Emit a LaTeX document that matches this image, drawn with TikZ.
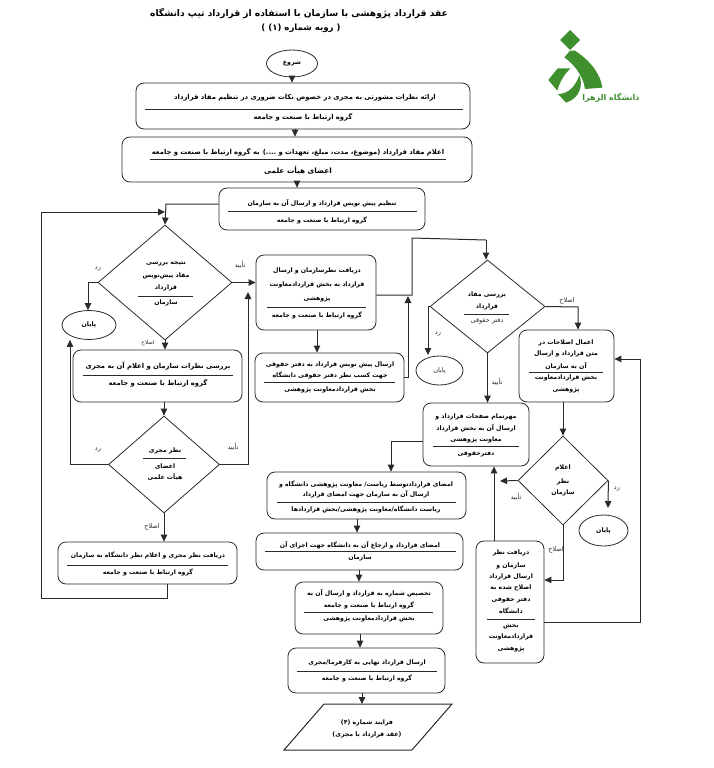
\documentclass[tikz,border=0pt]{standalone}
\usepackage{fontspec}
\usetikzlibrary{arrows.meta,shapes.geometric,fit}
\TeXXeTstate=1
\newfontfamily\faB[Script=Arabic]{DejaVu Sans Bold}
\newfontfamily\faR[Script=Arabic]{DejaVu Sans}
\newcommand{\fa}[1]{\beginR #1\endR}
\definecolor{ln}{HTML}{2A2A2A}
\definecolor{logog}{HTML}{3F8F2F}
\tikzset{
  flowbox/.style={draw=ln,line width=0.8pt,rounded corners=8pt,inner sep=0pt},
  dia/.style={draw=ln,line width=0.8pt,diamond,inner sep=0pt},
  term/.style={draw=ln,line width=0.8pt,ellipse,inner sep=0pt},
  sep/.style={draw=ln,line width=0.8pt},
  conn/.style={draw=ln,line width=1pt},
  arr/.style={conn,-{Triangle[length=7pt,width=6.5pt]}},
  lb/.style={inner sep=0pt,text=black,font=\faB\fontsize{6.8}{8}\selectfont},
  lbs/.style={lb,font=\faB\fontsize{6.2}{8}\selectfont},
  tag/.style={inner sep=0pt,text=ln,font=\faR\fontsize{6.5}{8}\selectfont}
}
\begin{document}
\begin{tikzpicture}[x=1pt,y=-1pt]
\useasboundingbox (0,0) rectangle (714,768);
% title
\node[inner sep=0pt,font=\faB\fontsize{9.1}{11}\selectfont] (title1) at (299,13) {\fa{عقد قرارداد پژوهشی با سازمان با استفاده از قرارداد تیپ دانشگاه}};
\node[inner sep=0pt,font=\faB\fontsize{8.6}{11}\selectfont] (title2) at (301,28) {\fa{( رویه شماره (۱) )}};
% start
\node[term,minimum width=51pt,minimum height=27pt,lbs] (start) at (292,63.5) {\fa{شروع}};
% boxes
\node[flowbox,fit={(136,83)(470,129)}] (b1) {};
\node[lb] (b1a) at (305,98) {\fa{ارائه نظرات مشورتی به مجری در خصوص نکات ضروری در تنظیم مفاد قرارداد}};
\draw[sep] (145,109) -- (463,109);
\node[lb] (b1b) at (303,117) {\fa{گروه ارتباط با صنعت و جامعه}};
\node[flowbox,fit={(122,137)(472,182)}] (b2) {};
\node[lb] (b2a) at (298,152) {\fa{اعلام مفاد قرارداد (موضوع، مدت، مبلغ، تعهدات و ....) به گروه ارتباط با صنعت و جامعه}};
\draw[sep] (150,159) -- (446,159);
\node[lb,font=\faB\fontsize{7.3}{9}\selectfont] (b2b) at (298,170) {\fa{اعضای هیأت علمی}};
\node[flowbox,fit={(219,188)(425,230)}] (b3) {};
\node[lbs] (b3a) at (322,203) {\fa{تنظیم پیش نویس قرارداد و ارسال آن به سازمان}};
\draw[sep] (228,211) -- (417,211);
\node[lbs] (b3b) at (322,220) {\fa{گروه ارتباط با صنعت و جامعه}};
% diamond 1
\node[dia,minimum width=134pt,minimum height=115pt] (d1) at (165,282.5) {};
\node[lbs] (d1a) at (166,264) {\fa{نتیجه بررسی}};
\node[lbs] (d1b) at (166,276) {\fa{مفاد پیش‌نویس}};
\node[lbs] (d1c) at (166,288) {\fa{قرارداد}};
\draw[sep] (138,296) -- (193,296);
\node[lbs] (d1d) at (166,303) {\fa{سازمان}};
\node[term,minimum width=54pt,minimum height=29pt,lbs] (e1) at (89,325) {\fa{پایان}};
% box 4
\node[flowbox,fit={(73,350)(242,402)}] (b4) {};
\node[lb] (b4a) at (158,366) {\fa{بررسی نظرات سازمان و اعلام آن به مجری}};
\draw[sep] (83,375) -- (233,375);
\node[lb] (b4b) at (158,383) {\fa{گروه ارتباط با صنعت و جامعه}};
% diamond 2
\node[dia,minimum width=111pt,minimum height=97pt] (d2) at (164,464.5) {};
\node[lbs] (d2a) at (165,451) {\fa{نظر مجری}};
\draw[sep] (143,458) -- (186,458);
\node[lbs] (d2b) at (165,466) {\fa{اعضای}};
\node[lbs] (d2c) at (165,477) {\fa{هیأت علمی}};
% box 6
\node[flowbox,fit={(58,542)(237,584)}] (b6) {};
\node[lbs] (b6a) at (148,555) {\fa{دریافت نظر مجری و اعلام نظر دانشگاه به سازمان}};
\draw[sep] (67,565) -- (228,565);
\node[lbs] (b6b) at (148,572) {\fa{گروه ارتباط با صنعت و جامعه}};
% box 5
\node[flowbox,fit={(256,255)(376,330)}] (b5) {};
\node[lbs] (b5a) at (317,271) {\fa{دریافت نظرسازمان و ارسال}};
\node[lbs] (b5b) at (317,285) {\fa{قرارداد به بخش قراردادمعاونت}};
\node[lbs] (b5c) at (317,299) {\fa{پژوهشی}};
\draw[sep] (267,307) -- (366,307);
\node[lbs] (b5d) at (317,315) {\fa{گروه ارتباط با صنعت و جامعه}};
% box 7
\node[flowbox,fit={(255,353)(404,402)}] (b7) {};
\node[lbs] (b7a) at (330,365) {\fa{ارسال پیش نویس قرارداد به دفتر حقوقی}};
\node[lbs] (b7b) at (330,375) {\fa{جهت کسب نظر دفتر حقوقی دانشگاه}};
\draw[sep] (264,382) -- (395,382);
\node[lbs] (b7c) at (330,390) {\fa{بخش قراردادمعاونت پژوهشی}};
% diamond 3
\node[dia,minimum width=115pt,minimum height=93pt] (d3) at (487.5,306.5) {};
\node[lbs] (d3a) at (487,295) {\fa{بررسی مفاد}};
\node[lbs] (d3b) at (487,307) {\fa{قرارداد}};
\draw[sep] (464,314) -- (509,314);
\node[tag] (d3c) at (487,321) {\fa{دفتر حقوقی}};
\node[term,minimum width=47pt,minimum height=29pt,tag] (e2) at (439.5,370.5) {\fa{پایان}};
% box 9
\node[flowbox,fit={(519,330)(614,402)}] (b9) {};
\node[lbs] (b9a) at (566,343) {\fa{اعمال اصلاحات در}};
\node[lbs] (b9b) at (566,354) {\fa{متن قرارداد و ارسال}};
\node[lbs] (b9c) at (566,366) {\fa{آن به سازمان}};
\draw[sep] (529,372) -- (603,372);
\node[lbs] (b9d) at (566,378) {\fa{بخش قراردادمعاونت}};
\node[lbs] (b9e) at (566,390) {\fa{پژوهشی}};
% box 8
\node[flowbox,fit={(423,403)(529,466)}] (b8) {};
\node[lbs] (b8a) at (476,417) {\fa{مهرتمام صفحات قرارداد و}};
\node[lbs] (b8b) at (476,428) {\fa{ارسال آن به بخش قرارداد}};
\node[lbs] (b8c) at (476,440) {\fa{معاونت پژوهشی}};
\draw[sep] (433,446) -- (519,446);
\node[lbs] (b8d) at (476,454) {\fa{دفترحقوقی}};
% diamond 4
\node[dia,minimum width=90pt,minimum height=89pt] (d4) at (563,480.5) {};
\node[lbs] (d4a) at (563,468) {\fa{اعلام}};
\node[lbs] (d4b) at (563,482) {\fa{نظر}};
\node[lbs] (d4c) at (563,493) {\fa{سازمان}};
\node[term,minimum width=49pt,minimum height=31pt,lbs] (e3) at (603.5,530.5) {\fa{پایان}};
% box 10
\node[flowbox,fit={(476,541)(544,663)}] (b10) {};
\node[lbs] (b10a) at (511,553) {\fa{دریافت نظر}};
\node[lbs] (b10b) at (511,566) {\fa{سازمان و}};
\node[lbs] (b10c) at (511,577) {\fa{ارسال قرارداد}};
\node[lbs] (b10d) at (511,588) {\fa{اصلاح شده به}};
\node[lbs] (b10e) at (511,600) {\fa{دفتر حقوقی}};
\node[lbs] (b10f) at (511,611) {\fa{دانشگاه}};
\draw[sep] (487,619) -- (535,619);
\node[lbs] (b10g) at (511,626) {\fa{بخش}};
\node[lbs] (b10h) at (511,637) {\fa{قراردادمعاونت}};
\node[lbs] (b10i) at (511,649) {\fa{پژوهشی}};
% box 11
\node[flowbox,fit={(267,472)(466,519)}] (b11) {};
\node[lbs] (b11a) at (366,484) {\fa{امضای قراردادتوسط ریاست/ معاونت پژوهشی دانشگاه و}};
\node[lbs] (b11b) at (366,494) {\fa{ارسال آن به سازمان جهت امضای قرارداد}};
\draw[sep] (277,502) -- (456,502);
\node[lbs] (b11c) at (366,509) {\fa{ریاست دانشگاه/معاونت پژوهشی/بخش قراردادها}};
% box 12
\node[flowbox,fit={(256,533)(463,570)}] (b12) {};
\node[lbs] (b12a) at (360,545) {\fa{امضای قرارداد و ارجاع آن به دانشگاه جهت اجرای آن}};
\draw[sep] (265,551) -- (456,551);
\node[lbs] (b12b) at (360,558) {\fa{سازمان}};
% box 13
\node[flowbox,fit={(295,582)(443,634)}] (b13) {};
\node[lbs] (b13a) at (369,593) {\fa{تخصیص شماره به قرارداد و ارسال آن به}};
\node[lbs] (b13b) at (369,605) {\fa{گروه ارتباط با صنعت و جامعه}};
\draw[sep] (304,612) -- (433,612);
\node[lbs] (b13c) at (369,619) {\fa{بخش قراردادمعاونت پژوهشی}};
% box 14
\node[flowbox,fit={(288,648)(445,693)}] (b14) {};
\node[lbs] (b14a) at (367,663) {\fa{ارسال قرارداد نهایی به کارفرما/مجری}};
\draw[sep] (297,671) -- (437,671);
\node[lbs] (b14b) at (367,678) {\fa{گروه ارتباط با صنعت و جامعه}};
% parallelogram
\coordinate (pa) at (324,704);
\coordinate (pb) at (452,704);
\coordinate (pc) at (412,750);
\coordinate (pd) at (284,750);
\draw[draw=ln,line width=1pt] (pa) -- (pb) -- (pc) -- (pd) -- cycle;
\node[lbs] (paraa) at (367,723) {\fa{فرایند شماره (۴)}};
\node[lbs] (parab) at (367,735) {\fa{(عقد قرارداد با مجری)}};
% helper coordinates
\coordinate (c1) at (295,133);
\coordinate (c2) at (297,185);
\coordinate (cl1) at (41,212);
\coordinate (cl2) at (41,598);
\coordinate (ca) at (70,463);
\coordinate (cb) at (88,282);
\coordinate (cc) at (248,292);
\coordinate (cd) at (317,340);
\coordinate (ce) at (412,238);
\coordinate (cx) at (412,295);
\coordinate (cf) at (408,377);
\coordinate (cy) at (408,296);
\coordinate (cg) at (486,240);
\coordinate (ch) at (428,355);
\coordinate (ci) at (578,307);
\coordinate (cj) at (563,418);
\coordinate (ck) at (391,441);
\coordinate (cl) at (357,526);
\coordinate (cm) at (359,576);
\coordinate (cn) at (360,641);
\coordinate (co) at (362,699);
\coordinate (cp) at (500,481);
\coordinate (cq) at (608,508);
\coordinate (cr) at (563,580);
\coordinate (cs) at (494,505);
\coordinate (ct) at (640,622);
\coordinate (cu) at (640,359);
\coordinate (cv) at (167,591);
\coordinate (cw) at (166,204);
% connectors
\draw[arr] (start.south) -- (start.south |- b1.north);
\draw[arr] (c1 |- b1.south) -- (c1 |- b2.north);
\draw[arr] (c2 |- b2.south) -- (c2 |- b3.north);
\draw[arr] (b3.west |- cw) -- (cw) -- (d1.north);
\draw[arr] (cl2) -- (cl1) -- (d1.north |- cl1);
\draw[conn] (cv |- b6.south) -- (cv |- cl2) -- (cl2);
\draw[arr] (d1.west) -- (d1.west -| cb) -- (cb |- e1.north);
\draw[arr] (d1.south) -- (d1.south |- b4.north);
\draw[arr] (d1.east) -- (d1.east -| b5.west);
\draw[arr] (b4.south -| d2.north) -- (d2.north);
\draw[arr] (d2.west) -- (d2.west -| ca) -- (ca |- e1.south);
\draw[arr] (d2.east) -- (d2.east -| cc) -- (cc);
\draw[arr] (d2.south) -- (b6.north -| d2.south);
\draw[arr] (cd |- b5.south) -- (cd |- b7.north);
\draw[conn] (b5.east |- cx) -- (cx) -- (ce) -- (cg);
\draw[arr] (cg) -- (cg |- d3.north);
\draw[arr] (b7.east |- cf) -- (cf) -- (cy);
\draw[arr] (d3.west) -- (ch |- d3.west) -- (ch);
\draw[arr] (d3.south) -- (d3.south |- b8.north);
\draw[arr] (d3.east) -- (ci) -- (ci |- b9.north);
\draw[arr] (cj |- b9.south) -- (cj |- d4.north);
\draw[arr] (b8.west |- ck) -- (ck) -- (ck |- b11.north);
\draw[arr] (d4.west) -- (cp);
\draw[arr] (d4.east) -- (cq);
\draw[arr] (d4.south) -- (cr) -- (cr -| b10.east);
\draw[arr] (cs |- b10.north) -- (cs |- b8.south);
\draw[arr] (b10.east |- ct) -- (ct) -- (cu) -- (cu -| b9.east);
\draw[arr] (cl |- b11.south) -- (cl |- b12.north);
\draw[arr] (cm |- b12.south) -- (cm |- b13.north);
\draw[arr] (cn |- b13.south) -- (cn |- b14.north);
\draw[arr] (co |- b14.south) -- (co |- pa);
% edge tags
\node[tag] (t1) at (98,269) {\fa{رد}};
\node[tag] (t2) at (240,265) {\fa{تأیید}};
\node[tag,font=\faR\fontsize{5.5}{7}\selectfont] (t3) at (148,343) {\fa{اصلاح}};
\node[tag] (t4) at (98,450) {\fa{رد}};
\node[tag] (t5) at (233,447) {\fa{تأیید}};
\node[tag] (t6) at (152,527) {\fa{اصلاح}};
\node[tag] (t7) at (438,334) {\fa{رد}};
\node[tag] (t8) at (497,382) {\fa{تأیید}};
\node[tag] (t9) at (567,301) {\fa{اصلاح}};
\node[tag] (t10) at (516,497) {\fa{تأیید}};
\node[tag] (t11) at (617,489) {\fa{رد}};
\node[tag] (t12) at (556,550) {\fa{اصلاح}};
% logo
\begin{scope}[shift={(530,20)},x=0.3333pt,y=-0.3333pt]
\fill[logog] (120,30) -- (150,60) -- (120,90) -- (90,60) -- cycle;
\fill[logog] (103,112) -- (120,92) -- (135,92) .. controls (185,125) and (212,165) .. (217,203) -- (165,207) .. controls (160,170) and (135,135) .. (103,112) -- cycle;
\fill[logog] (55,180) -- (83,145) -- (122,145) .. controls (100,165) and (88,190) .. (82,212) -- cycle;
\fill[logog] (148,165) .. controls (160,195) and (150,235) .. (108,248) -- (84,222) .. controls (118,222) and (138,195) .. (148,165) -- cycle;
\end{scope}
\node[inner sep=0pt,text=logog,font=\faB\fontsize{8}{10}\selectfont] (logotext) at (611,98) {\fa{دانشگاه الزهرا}};
\end{tikzpicture}
\end{document}
